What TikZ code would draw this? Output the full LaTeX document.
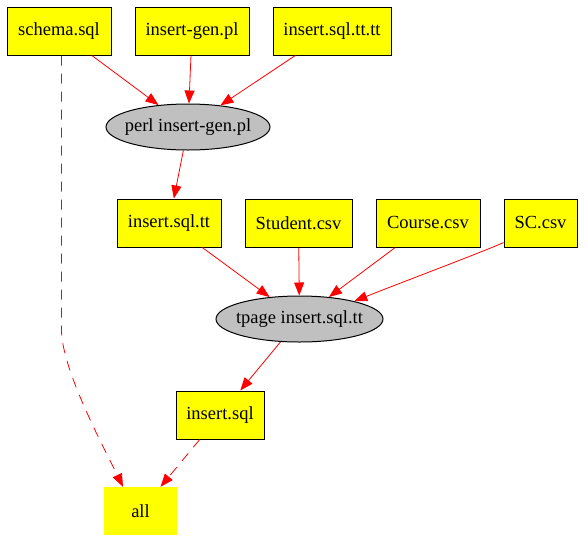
\documentclass[tikz,border=0pt]{standalone}
\usepackage{fontspec}
\setmainfont{Liberation Serif}
\usetikzlibrary{shapes.geometric,arrows.meta}
\definecolor{gvyellow}{RGB}{255,255,0}
\definecolor{gvgray}{RGB}{192,192,192}
\definecolor{gvred}{RGB}{255,0,0}
\newcommand{\zerowidth}[1]{\makebox[0pt]{#1}}
\begin{document}
\begin{tikzpicture}[x=1pt,y=-1pt,
  every node/.style={font=\fontsize{18.5}{20}\selectfont, inner sep=0pt},
  filebox/.style={rectangle, draw=black, line width=1pt, fill=gvyellow, minimum width=#1, minimum height=48pt},
  goalbox/.style={rectangle, fill=gvyellow, minimum width=#1, minimum height=48pt},
  cmdnode/.style={ellipse, draw=black, line width=1pt, fill=gvgray, minimum width=#1, minimum height=46pt},
  dep/.style={draw=gvred, line width=0.8pt, -{Triangle[length=13pt,width=10pt]}},
  dashdep/.style={dep, dash pattern=on 10pt off 8pt}
]
\useasboundingbox (0,0) rectangle (585,541);
\node[filebox=104pt] (schema) at (59,31) {schema.sql};
\node[filebox=114pt] (gen) at (192,31) {insert-gen.pl};
\node[filebox=118pt] (tttt) at (332,31) {insert.sql.tt.tt};
\node[cmdnode=164pt] (perl) at (188,127) {\zerowidth{perl insert-gen.pl}};
\node[filebox=104pt] (tt) at (169,223) {insert.sql.tt};
\node[filebox=107pt] (student) at (298.5,223) {Student.csv};
\node[filebox=104pt] (course) at (428,223) {Course.csv};
\node[filebox=73pt] (sc) at (540.5,223) {SC.csv};
\node[cmdnode=167pt] (tpage) at (299.5,319) {\zerowidth{tpage insert.sql.tt}};
\node[filebox=88pt] (sql) at (220,415) {insert.sql};
\node[goalbox=73pt] (all) at (140.5,511) {all};

\draw[dep] (schema) -- (perl);
\draw[dep] (gen) -- (perl);
\draw[dep] (tttt) -- (perl);
\draw[dep] (perl) -- (tt);
\draw[dep] (tt) -- (tpage);
\draw[dep] (student) -- (tpage);
\draw[dep] (course) -- (tpage);
\draw[dep] ([yshift=5pt]sc.south west) .. controls +(-12,6) and +(40,-16) .. (tpage.18);
\draw[dep] (tpage) -- (sql);
\draw[dashdep] (sql) -- (all);
\draw[dashdep] ([xshift=2.5pt]schema.south) -- ++(0,275) .. controls +(0.5,40) and +(-18,-37) .. ([xshift=-17.5pt]all.north);
\end{tikzpicture}
\end{document}
